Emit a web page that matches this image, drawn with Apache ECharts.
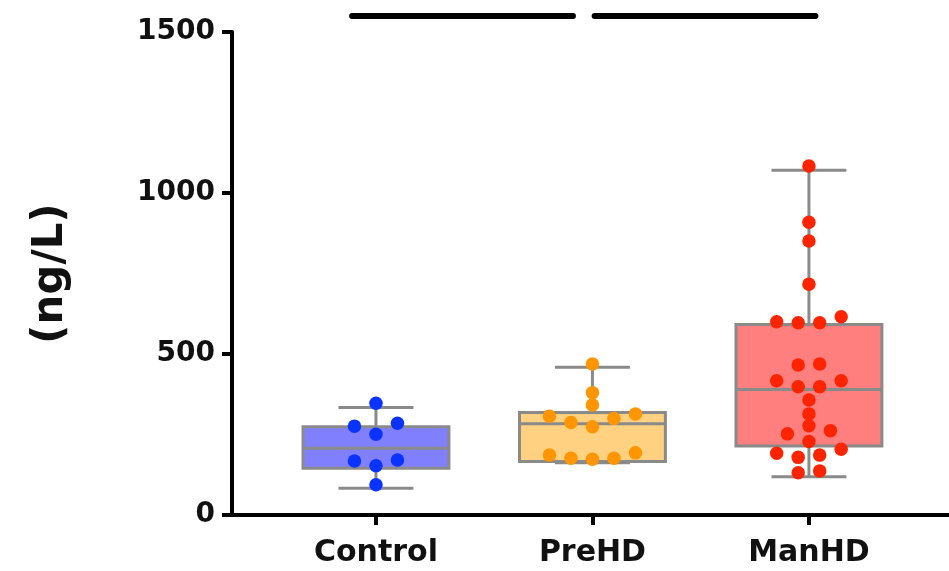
<!DOCTYPE html>
<html>
<head>
<meta charset="utf-8">
<script src="https://cdn.jsdelivr.net/npm/echarts@6/dist/echarts.min.js"></script>
<style>
html,body{margin:0;padding:0;background:#fff;}
#chart{width:949px;height:571px;}
</style>
</head>
<body>
<div id="chart"></div>
<script>
// ---- data ----
const categories = ['Control', 'PreHD', 'ManHD'];
const controlValues = [347, 285, 276, 251, 171, 153, 168, 94];
const preHDValues = [469, 380, 342, 307, 287, 274, 300, 314, 193, 176, 173, 176, 186];
const manHDValues = [1084, 909, 851, 717, 616, 597, 597, 600, 466, 469, 417, 398, 398, 417,
  357, 314, 262, 277, 252, 228, 192, 179, 204, 186, 131, 137];
// [min, Q1, median, Q3, max]
const controlBox = [83, 145, 207, 274, 334];
const preHDBox = [162, 166, 283, 318, 459];
const manHDBox = [119, 214, 390, 592, 1071];
const yTickValues = [0, 500, 1000, 1500];
const sigLineA = [0.89, 1.91];
const sigLineB = [2.01, 3.03];
const sigLevel = 1550;

// ---- styling ----
const FONT = 'DejaVu Sans';
const boxFills = ['#8080ff', '#ffd180', '#ff7f7f'];
const dotColors = ['#0a33ff', '#ff9500', '#ff2400'];
const BOX_HALF = 0.337;
const CAP_HALF = 0.173;
const DOT = 13.5;
const ROW_STEP_PX = 21.5;

const chart = echarts.init(document.getElementById('chart'));

const groups = [controlValues, preHDValues, manHDValues];
const boxes = [controlBox, preHDBox, manHDBox];

const base = {
  animation: false,
  backgroundColor: '#ffffff',
  grid: { left: 232, right: 0, top: 32, bottom: 56, containLabel: false },
  xAxis: {
    type: 'value', min: 0.335, max: 3.647,
    axisLine: { show: true, lineStyle: { color: '#000', width: 4 } },
    axisTick: { show: true, customValues: [1, 2, 3], length: 10, lineStyle: { color: '#000', width: 4 } },
    axisLabel: {
      customValues: [1, 2, 3], margin: 23,
      formatter: v => categories[Math.round(v) - 1] || '',
      fontFamily: FONT, fontWeight: 'bold', fontSize: 30, color: '#111'
    },
    splitLine: { show: false }
  },
  yAxis: {
    type: 'value', min: 0, max: 1500, interval: 500,
    name: '(ng/L)', nameLocation: 'middle', nameRotate: 90, nameGap: 160,
    nameTextStyle: { fontFamily: FONT, fontWeight: 'bold', fontSize: 42, color: '#111' },
    axisLine: { show: true, lineStyle: { color: '#000', width: 4 } },
    axisTick: { show: true, length: 10, lineStyle: { color: '#000', width: 4 } },
    axisLabel: {
      margin: 17, fontFamily: FONT, fontWeight: 'bold', fontSize: 28, color: '#111',
      formatter: v => (yTickValues.indexOf(v) >= 0 ? String(v) : '')
    },
    splitLine: { show: false }
  },
  series: []
};
chart.setOption(base);

// pixel scales from the chart's own axes
const pxPerX = chart.convertToPixel({ xAxisIndex: 0 }, 2) - chart.convertToPixel({ xAxisIndex: 0 }, 1);
const pxPerY = Math.abs(chart.convertToPixel({ yAxisIndex: 0 }, 0) - chart.convertToPixel({ yAxisIndex: 0 }, 100)) / 100;

// GraphPad-like row layout: points close in value share a row, spread symmetrically
function swarm(values, center) {
  const sorted = values.slice().sort((a, b) => a - b);
  const rows = [];
  let row = [];
  sorted.forEach(v => {
    if (row.length && ((v - row[row.length - 1]) * pxPerY < 10 && (v - row[0]) * pxPerY < 14.5)) {
      row.push(v);
    } else {
      if (row.length) rows.push(row);
      row = [v];
    }
  });
  if (row.length) rows.push(row);
  const out = [];
  rows.forEach(r => {
    const n = r.length;
    const slots = [];
    for (let i = 0; i < n; i++) slots.push((i - (n - 1) / 2) * ROW_STEP_PX);
    slots.sort((a, b) => Math.abs(a) - Math.abs(b) || a - b);
    r.forEach((v, i) => out.push([center + slots[i] / pxPerX, v]));
  });
  return out;
}

const boxData = boxes.map((b, i) => [i + 1].concat(b));

const series = [
  {
    type: 'custom',
    z: 1,
    data: boxData,
    renderItem: function (params, api) {
      const x = api.value(0);
      const mn = api.value(1), q1 = api.value(2), md = api.value(3), q3 = api.value(4), mx = api.value(5);
      const c = (a, b) => api.coord([a, b]);
      const gray = '#8a8a8a';
      const ls = { stroke: gray, lineWidth: 3 };
      const tl = c(x - BOX_HALF, q3), br = c(x + BOX_HALF, q1);
      const top = c(x, mx), q3p = c(x, q3), q1p = c(x, q1), bot = c(x, mn);
      const capL1 = c(x - CAP_HALF, mx), capR1 = c(x + CAP_HALF, mx);
      const capL2 = c(x - CAP_HALF, mn), capR2 = c(x + CAP_HALF, mn);
      const mL = c(x - BOX_HALF, md), mR = c(x + BOX_HALF, md);
      return {
        type: 'group',
        children: [
          { type: 'line', shape: { x1: top[0], y1: top[1], x2: q3p[0], y2: q3p[1] }, style: ls },
          { type: 'line', shape: { x1: q1p[0], y1: q1p[1], x2: bot[0], y2: bot[1] }, style: ls },
          { type: 'line', shape: { x1: capL1[0], y1: capL1[1], x2: capR1[0], y2: capR1[1] }, style: ls },
          { type: 'line', shape: { x1: capL2[0], y1: capL2[1], x2: capR2[0], y2: capR2[1] }, style: ls },
          { type: 'rect', shape: { x: tl[0], y: tl[1], width: br[0] - tl[0], height: br[1] - tl[1] },
            style: { fill: boxFills[params.dataIndex], stroke: gray, lineWidth: 3 } },
          { type: 'line', shape: { x1: mL[0], y1: mL[1], x2: mR[0], y2: mR[1] }, style: ls }
        ]
      };
    }
  }
];

groups.forEach((vals, i) => {
  series.push({
    type: 'scatter', z: 3, symbol: 'circle', symbolSize: DOT,
    itemStyle: { color: dotColors[i], opacity: 1 },
    data: swarm(vals, i + 1)
  });
});

[sigLineA, sigLineB].forEach(seg => {
  series.push({
    type: 'line', clip: false, showSymbol: false, symbol: 'none', z: 4,
    lineStyle: { color: '#000', width: 6, cap: 'round' },
    data: [[seg[0], sigLevel], [seg[1], sigLevel]]
  });
});

chart.setOption({ series: series });
</script>
</body>
</html>
